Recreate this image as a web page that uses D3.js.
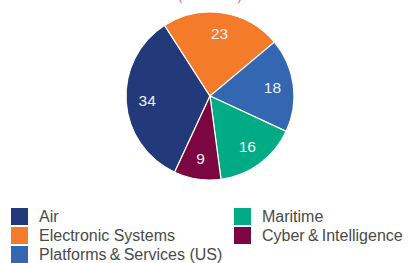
<!DOCTYPE html>
<html lang="en">
  <head>
    <meta charset="utf-8">
    <title>Sales by segment</title>
    <script src="https://cdn.jsdelivr.net/npm/d3@7"></script>
    <style>
      body, html { margin: 0; padding: 0; background: #fff; }
      body { font-family: "Liberation Sans", Arial, sans-serif; }
    </style>
  </head>
  <body>
    <svg width="409" height="263"></svg>
  <script>
    // segment data, in legend order
    const segments = ["Air", "Electronic Systems", "Platforms\u2009&\u2009Services (US)", "Maritime", "Cyber\u2009&\u2009Intelligence"]
    const shares = [34, 23, 18, 16, 9]
    const colours = ["#233a7a", "#f47b29", "#3467b1", "#00ab86", "#7b0641"]

    const svg = d3.select('svg')
    const cx = 210, cy = 96, radius = 84

    // subtitle, mostly cut off at the top (as in the original)
    svg.append('text')
      .attr('x', cx)
      .attr('y', 0)
      .attr('text-anchor', 'middle')
      .attr('fill', '#e8565a')
      .style('font-size', '12px')
      .text('(% of sales)')

    const pie = d3.pie()
      .sort(null)
      .startAngle(-155.1 * Math.PI / 180)
      .endAngle((360 - 155.1) * Math.PI / 180)

    const arcs = pie(shares)
    const arc = d3.arc().innerRadius(0).outerRadius(radius)
    const labelArc = d3.arc().innerRadius(radius * 0.75).outerRadius(radius * 0.75)

    const g = svg.append('g').attr('transform', 'translate(' + cx + ',' + cy + ')')

    g.selectAll('path')
      .data(arcs)
      .join('path')
      .attr('d', arc)
      .attr('fill', (d, i) => colours[i])
      .attr('stroke', '#fff')
      .attr('stroke-width', 1.2)

    g.selectAll('text')
      .data(arcs)
      .join('text')
      .attr('transform', d => 'translate(' + labelArc.centroid(d) + ')')
      .attr('text-anchor', 'middle')
      .attr('dy', '0.36em')
      .attr('fill', '#eef0f6')
      .style('font-size', '15.5px')
      .text(d => d.data)

    // legend: two columns
    const legend = svg.append('g')
    const items = legend.selectAll('g')
      .data(segments)
      .join('g')
      .attr('transform', (d, i) => {
        const col = i < 3 ? 0 : 1
        const row = i < 3 ? i : i - 3
        return 'translate(' + (col ? 234 : 11) + ',' + (208 + row * 19) + ')'
      })

    items.append('rect')
      .attr('width', 17)
      .attr('height', 17)
      .attr('fill', (d, i) => colours[i])

    items.append('text')
      .attr('x', 28)
      .attr('y', 14)
      .attr('fill', '#4a4a4a')
      .style('font-size', '16px')
      .text(d => d)
  </script>
  </body>
</html>
